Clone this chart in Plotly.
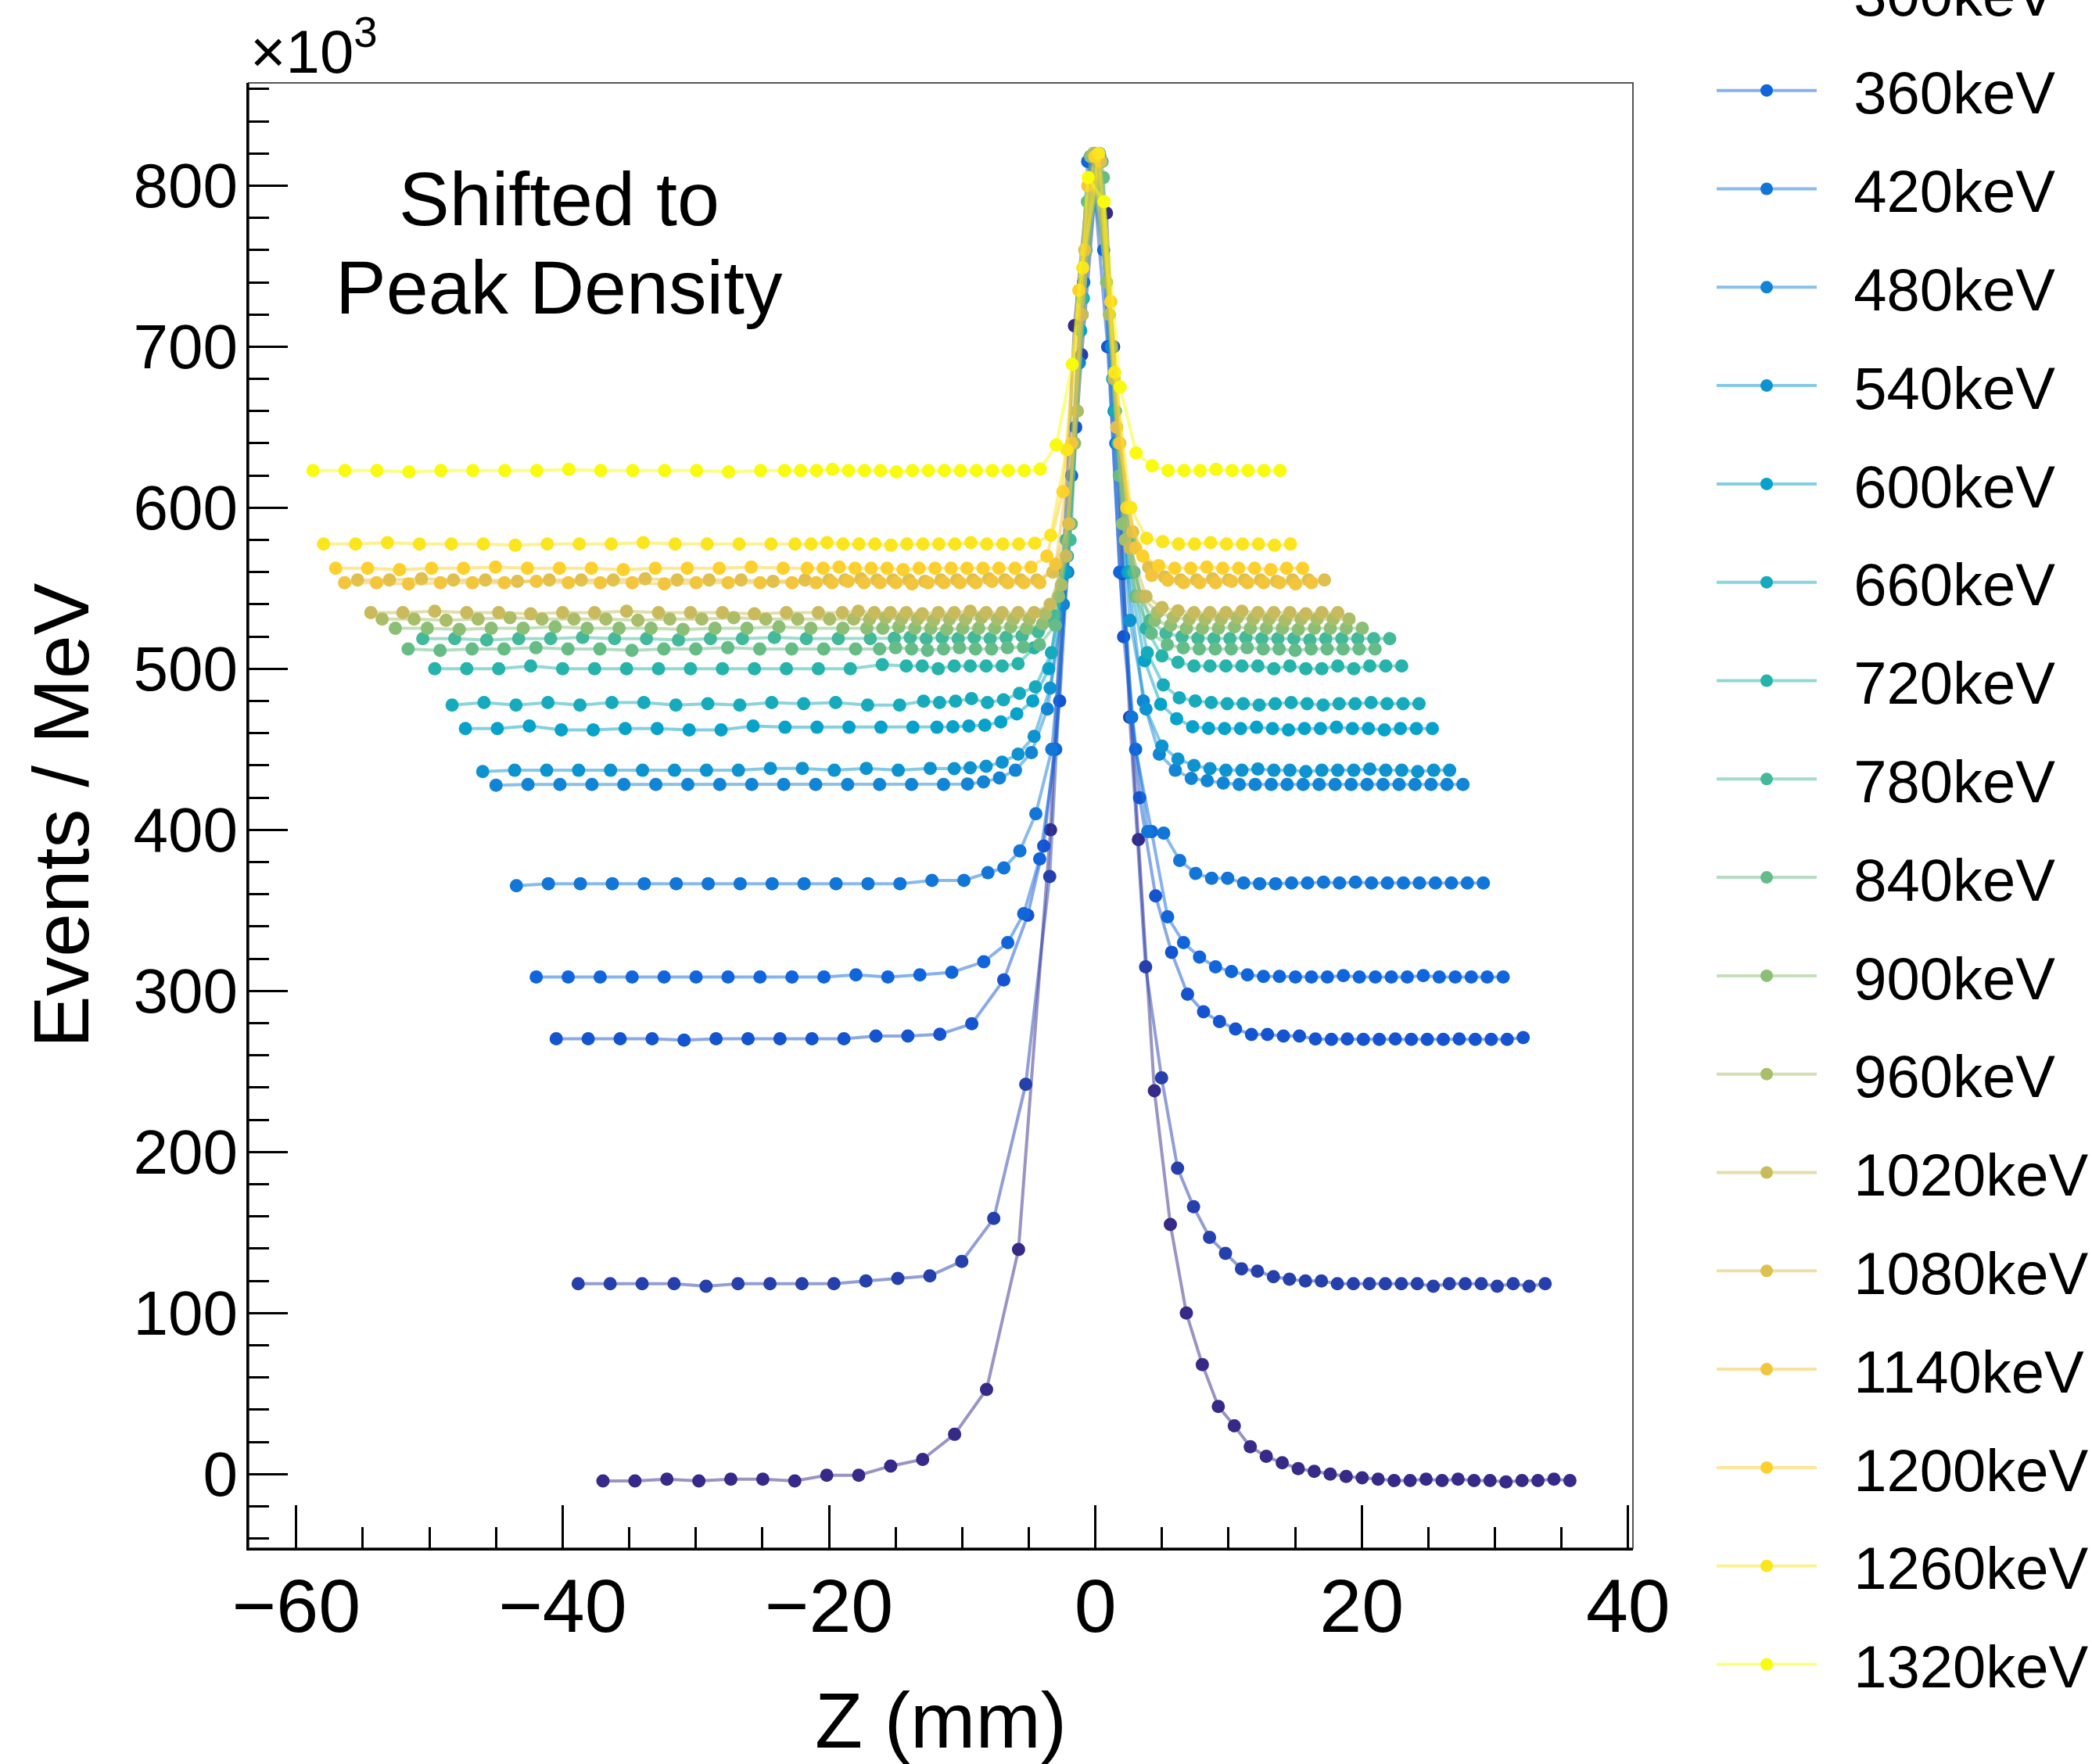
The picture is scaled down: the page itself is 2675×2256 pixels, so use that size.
import plotly.graph_objects as go

# Beam energies (keV) of the scanned samples, lowest first
energies_kev = [180, 240, 300, 360, 420, 480, 540, 600, 660, 720,
                780, 840, 900, 960, 1020, 1080, 1140, 1200, 1260, 1320]

# Z bin centres (mm) of the histogram, measured from the first bin:
# 15 coarse bins of 2.4 mm followed by 32 fine bins of 1.2 mm
bin_centres = [0.0, 2.4, 4.8, 7.2, 9.6, 12.0, 14.4, 16.8, 19.2, 21.6, 24.0, 26.4, 28.8, 31.2, 33.6,
               35.4, 36.6, 37.8, 39.0, 40.2, 41.4, 42.6, 43.8, 45.0, 46.2, 47.4, 48.6, 49.8, 51.0, 52.2,
               53.4, 54.6, 55.8, 57.0, 58.2, 59.4, 60.6, 61.8, 63.0, 64.2, 65.4, 66.6, 67.8, 69.0, 70.2,
               71.4, 72.6]

# Position of the density peak for each energy (same frame as bin_centres)
peak_position = [36.97, 38.83, 40.48, 41.98, 43.47, 45.00, 46.00, 47.30, 48.30, 49.60,
                 50.50, 51.60, 52.56, 53.55, 54.40, 55.40, 56.37, 57.04, 57.95, 58.74]

# Events / MeV (x10^3) per bin
ev_180 = [-4.3, -4.3, -3.2, -4.3, -3.2, -3.2, -4.3, -0.7, -0.7, 5.0, 9.1, 24.7, 52.6, 139.5, 400.0,
          713, 818, 783, 559, 394, 238, 155, 100, 68, 42, 30, 17, 11, 7, 3.4, 1.7,
          0.0, -1.5, -2.3, -3.2, -4.0, -4.0, -3.2, -4.0, -3.2, -4.0, -4.0, -4.8, -4.0, -4.0, -3.2, -4.0]
ev_240 = [118.2, 118.2, 118.2, 118.2, 116.6, 118.2, 118.2, 118.2, 118.2, 119.9, 121.5, 123.1, 132.1, 158.7, 242.0,
          371, 560, 695, 815, 700, 470, 315, 246, 190, 166, 147, 137, 127.5, 126, 122.6, 121,
          119.9, 119.9, 118.2, 118.2, 118.2, 118.2, 118.2, 118.2, 116.6, 118.2, 118.2, 118.2, 116.6, 118.2, 116.6, 118.2]
ev_300 = [270.3, 270.3, 270.3, 270.3, 269.5, 270.3, 270.3, 270.3, 270.3, 270.3, 272.0, 272.0, 273.1, 279.6, 306.8,
          347, 390, 480, 650, 818, 700, 520, 420, 359, 324, 298, 287, 281, 276.4, 273, 273,
          272, 272, 270.2, 269.9, 270.2, 269.9, 269.9, 270.2, 269.9, 269.9, 269.9, 270.2, 269.9, 269.9, 269.9, 271.0]
ev_360 = [308.7, 308.7, 308.7, 308.7, 308.7, 308.7, 308.7, 308.7, 308.7, 308.7, 310.0, 308.7, 310.0, 311.6, 318.1,
          330, 348, 382, 450, 620, 815, 760, 560, 450, 399, 346, 330, 321, 315, 312, 310,
          309, 309, 308.7, 308.7, 308.7, 309.5, 308.7, 308.7, 308.7, 308.7, 309.5, 308.7, 308.7, 308.7, 308.7, 308.7]
ev_420 = [365.3, 366.6, 366.6, 366.6, 366.6, 366.6, 366.6, 366.6, 366.6, 366.6, 366.6, 366.6, 366.6, 368.6, 368.6,
          373.4, 376.4, 386.9, 410, 450, 560, 740, 818, 640, 470, 399, 398, 381, 373, 370, 370,
          367, 366.6, 366.6, 367, 367, 367.5, 367, 367.5, 367, 367, 367, 367, 367, 367, 367, 367]
ev_480 = [427.7, 428.2, 428.2, 428.2, 428.2, 428.2, 428.2, 428.2, 428.2, 428.2, 428.2, 428.2, 428.2, 428.2, 428.2,
          428.5, 429.8, 432.2, 437, 448, 475, 540, 690, 820, 700, 560, 480, 447, 437, 432, 430.5,
          429, 428.2, 428.2, 428.2, 428.2, 428.2, 428.2, 428.2, 428.2, 428.2, 428.2, 428.2, 428.2, 428.2, 428.2, 428.2]
ev_540 = [436.2, 437.0, 437.0, 437.0, 437.0, 437.0, 437.0, 437.0, 437.0, 438.2, 438.2, 437.0, 438.2, 437.0, 438.2,
          438, 438.5, 439.5, 442, 447, 458, 488, 560, 720, 818, 660, 530, 475, 452, 444, 440,
          438, 437.0, 437.0, 437.8, 437.0, 437.0, 436.2, 437.0, 437.0, 437.0, 437.8, 437.0, 437.0, 436.2, 437.0, 437.0]
ev_600 = [462.9, 462.9, 464.5, 462.1, 462.1, 462.9, 462.9, 462.1, 462.1, 464.5, 463.7, 463.7, 463.7, 463.7, 463.7,
          463.7, 464, 464.5, 465, 467, 472, 480, 500, 560, 710, 818, 680, 560, 505, 478, 469,
          464, 463, 462.9, 462.9, 463.7, 462.9, 462.1, 462.9, 462.9, 463.7, 462.9, 462.9, 462.1, 462.9, 462.9, 462.9]
ev_660 = [477.5, 479.1, 477.5, 479.1, 477.5, 479.1, 479.1, 477.5, 478.3, 477.5, 479.1, 478.3, 479.1, 477.5, 477.5,
          479.9, 479.1, 479.9, 481.5, 479.1, 480.7, 484.8, 488.8, 510, 570, 730, 820, 660, 560, 510, 490,
          482, 480, 479, 478.3, 478.3, 477.5, 478.3, 479.1, 478.3, 477.5, 478.3, 478.3, 479.1, 478.3, 478.3, 478.3]
ev_720 = [500.1, 500.1, 500.1, 501.8, 500.1, 500.1, 500.1, 500.1, 500.1, 500.1, 500.1, 500.1, 500.1, 500.1, 502.6,
          501.8, 501.8, 500.1, 501.8, 501.8, 501.8, 501.8, 503.2, 513, 530, 580, 730, 818, 680, 580, 525,
          508, 504, 501.8, 501.8, 501.8, 501.8, 501.8, 500.1, 501.8, 500.1, 500.1, 501.8, 500.1, 501.8, 501.8, 501.8]
ev_780 = [518.7, 518.7, 517.9, 518.7, 518.7, 519.5, 518.7, 518.7, 517.9, 518.7, 518.7, 519.5, 518.7, 518.7, 518.7,
          519.0, 519.5, 518.7, 519.5, 518.7, 519.5, 518.7, 519.5, 520.5, 523, 533, 580, 760, 815, 640, 560,
          530, 522, 520, 519, 518.7, 518.7, 519.5, 518.7, 518.7, 518.7, 517.9, 518.7, 518.7, 518.7, 518.7, 518.7]
ev_840 = [512.3, 511.5, 512.3, 512.3, 513.1, 512.3, 512.3, 511.5, 512.3, 512.3, 513.1, 512.3, 512.3, 512.3, 512.3,
          512.3, 513.1, 512.3, 511.5, 512.3, 513.1, 512.3, 512.3, 513.1, 513.5, 515, 527, 590, 790, 805, 620,
          545, 522, 515, 513, 512.3, 512.3, 512.3, 513.1, 512.3, 512.3, 511.5, 512.3, 512.3, 512.3, 512.3, 512.3]
ev_900 = [525.2, 525.2, 524.4, 525.2, 525.2, 526.0, 525.2, 525.2, 525.2, 524.4, 525.2, 525.2, 526.0, 525.2, 525.2,
          525.2, 525.2, 526.0, 525.2, 525.2, 524.4, 525.2, 525.2, 525.2, 526.0, 525.2, 528, 545, 640, 818, 740,
          590, 545, 530, 527, 525.2, 525.2, 525.2, 526.0, 525.2, 525.2, 525.2, 524.4, 525.2, 525.2, 525.2, 525.2]
ev_960 = [530.9, 530.9, 530.1, 530.9, 531.7, 530.9, 530.9, 530.9, 530.1, 530.9, 530.9, 531.7, 530.9, 530.9, 530.9,
          530.9, 530.9, 531.7, 530.9, 530.9, 530.1, 530.9, 530.9, 531.7, 530.9, 530.9, 530.9, 534, 552, 660, 820,
          720, 580, 545, 535, 532, 530.9, 530.9, 530.9, 531.7, 530.9, 530.9, 530.1, 530.9, 530.9, 530.9, 530.9]
ev_1020 = [534.9, 534.9, 535.7, 534.9, 534.9, 534.1, 534.9, 534.9, 535.7, 534.9, 534.9, 534.9, 534.1, 534.9, 534.9,
           534.9, 535.7, 534.9, 534.9, 534.9, 534.1, 534.9, 534.9, 535.7, 534.9, 534.9, 534.9, 534.9, 540, 570, 720,
           818, 680, 575, 545, 538, 536, 534.9, 534.9, 534.9, 535.7, 534.9, 534.9, 534.9, 534.1, 534.9, 534.9]
ev_1080 = [555.1, 555.1, 555.9, 555.1, 555.1, 554.3, 555.1, 555.1, 555.1, 555.9, 555.1, 555.1, 555.1, 554.3, 555.1,
           555.1, 555.1, 555.9, 555.1, 555.1, 555.1, 554.3, 555.1, 555.1, 555.1, 555.9, 555.1, 555.1, 555.1, 560, 590,
           760, 815, 650, 585, 563, 557, 555.1, 555.1, 555.9, 555.1, 555.1, 555.1, 554.3, 555.1, 555.1, 555.1]
ev_1140 = [553.5, 553.5, 552.7, 553.5, 553.5, 553.5, 554.3, 553.5, 553.5, 553.5, 552.7, 553.5, 553.5, 553.5, 553.5,
           553.5, 553.5, 554.3, 553.5, 553.5, 553.5, 552.7, 553.5, 553.5, 553.5, 553.5, 554.3, 553.5, 553.5, 553.5, 565,
           640, 800, 790, 640, 575, 558, 555, 553.5, 553.5, 553.5, 554.3, 553.5, 553.5, 553.5, 552.7, 553.5]
ev_1200 = [562.4, 562.4, 561.6, 562.4, 562.4, 563.2, 562.4, 562.4, 562.4, 561.6, 562.4, 562.4, 562.4, 563.2, 562.4,
           562.4, 562.4, 563.2, 562.4, 562.4, 562.4, 561.6, 562.4, 562.4, 562.4, 562.4, 562.4, 562.4, 562.4, 563, 570,
           610, 735, 818, 728, 600, 570, 564, 562.4, 562.4, 563.2, 562.4, 562.4, 562.4, 561.6, 562.4, 562.4]
ev_1260 = [577.5, 577.5, 578.3, 577.5, 577.5, 577.5, 576.7, 577.5, 577.5, 577.5, 578.3, 577.5, 577.5, 577.5, 577.5,
           577.5, 577.5, 578.3, 577.5, 577.5, 577.5, 576.7, 577.5, 577.5, 577.5, 577.5, 578.3, 577.5, 577.5, 577.5, 578,
           583, 636, 749, 820, 684, 600, 581, 579, 577.5, 577.5, 578.3, 577.5, 577.5, 577.5, 576.7, 577.5]
ev_1320 = [623.1, 623.1, 623.1, 622.3, 623.1, 623.1, 623.1, 623.1, 623.9, 623.1, 623.1, 623.1, 623.1, 622.3, 623.1,
           623.1, 623.1, 623.1, 623.9, 623.1, 623.1, 623.1, 622.3, 623.1, 623.1, 623.1, 623.1, 623.1, 623.1, 623.1, 623.1,
           624, 639, 689, 805, 790, 675, 634, 626, 623.1, 623.1, 623.1, 623.9, 623.1, 623.1, 623.1, 623.1]

events = [ev_180, ev_240, ev_300, ev_360, ev_420, ev_480, ev_540, ev_600, ev_660, ev_720,
          ev_780, ev_840, ev_900, ev_960, ev_1020, ev_1080, ev_1140, ev_1200, ev_1260, ev_1320]

# Energies listed in the key (the key starts at 300 keV)
legend_from_kev = 300

# ROOT kBird palette
BIRD_STOPS = [0.0, 0.125, 0.25, 0.375, 0.5, 0.625, 0.75, 0.875, 1.0]
BIRD_R = [0.2082, 0.0592, 0.0780, 0.0232, 0.1802, 0.5301, 0.8186, 0.9956, 0.9764]
BIRD_G = [0.1664, 0.3599, 0.5041, 0.6419, 0.7178, 0.7492, 0.7328, 0.7862, 0.9832]
BIRD_B = [0.5293, 0.8684, 0.8385, 0.7914, 0.6425, 0.4662, 0.3499, 0.1968, 0.0539]


def bird(t):
    for k in range(len(BIRD_STOPS) - 1):
        if t <= BIRD_STOPS[k + 1] + 1e-9:
            f = (t - BIRD_STOPS[k]) / (BIRD_STOPS[k + 1] - BIRD_STOPS[k])
            return tuple(int(round(255 * (c[k] + f * (c[k + 1] - c[k])))) for c in (BIRD_R, BIRD_G, BIRD_B))
    return tuple(int(round(255 * c[-1])) for c in (BIRD_R, BIRD_G, BIRD_B))


FONT = "Liberation Sans"
W, H = 2675, 2256
L, R, T, B = 318, 587, 106, 276
plot_w, plot_h = W - L - R, H - T - B
KEY_PAD = "\u00a0\u00a0"  # gap between the key sample and its label

fig = go.Figure()
n = len(energies_kev)
for i, (e, ys, zpk) in enumerate(zip(energies_kev, events, peak_position)):
    r, g, b = bird(i / (n - 1))
    xs = [c - zpk for c in bin_centres]
    fig.add_trace(go.Scatter(
        x=xs, y=ys, mode="lines+markers", name=f"{KEY_PAD}{e}keV", legendgroup=f"{e}keV",
        showlegend=e >= legend_from_kev,
        line=dict(color=f"rgba({r},{g},{b},0.5)", width=4),
        marker=dict(color=f"rgb({r},{g},{b})", size=17, line=dict(width=0)),
    ))


def px_x(p):
    return (p - L) / plot_w


def px_y(p):
    return (H - B - p) / plot_h


fig.update_layout(
    width=W, height=H,
    margin=dict(l=L, r=R, t=T, b=B, autoexpand=False),
    paper_bgcolor="white", plot_bgcolor="white",
    font=dict(family=FONT, color="black"),
    showlegend=True,
    legend=dict(
        x=px_x(2190), y=px_y(-66), xanchor="left", yanchor="top",
        font=dict(family=FONT, size=76, color="black"),
        bgcolor="rgba(0,0,0,0)", borderwidth=0,
        itemwidth=128, tracegroupgap=24, maxheight=4000,
        traceorder="grouped",
    ),
    xaxis=dict(
        range=[-63.57, 40.36], tick0=0, dtick=20,
        ticks="inside", ticklen=55, tickwidth=3, tickcolor="black",
        showline=True, linewidth=3, linecolor="black", mirror=False,
        showgrid=False, zeroline=False, ticklabelstandoff=-12,
        tickfont=dict(family=FONT, size=97, color="black"),
        minor=dict(dtick=5, ticks="inside", ticklen=27, tickwidth=3, tickcolor="black", showgrid=False),
        title=dict(text="Z (mm)", font=dict(family=FONT, size=100, color="black"), standoff=58),
    ),
    yaxis=dict(
        range=[-46.0, 863.8], tick0=0, dtick=100,
        ticks="inside", ticklen=50, tickwidth=3, tickcolor="black",
        showline=True, linewidth=3, linecolor="black", mirror=False,
        showgrid=False, zeroline=False, ticklabelstandoff=-5,
        tickfont=dict(family=FONT, size=80, color="black"),
        minor=dict(dtick=20, ticks="inside", ticklen=26, tickwidth=3, tickcolor="black", showgrid=False),
        title=dict(text="Events / MeV", font=dict(family=FONT, size=100, color="black"), standoff=24),
    ),
    shapes=[dict(type="rect", xref="paper", yref="paper", x0=0, x1=1, y0=0, y1=1,
                 line=dict(color="#555555", width=2), layer="below")],
    annotations=[
        dict(text="×10<sup>3</sup>", xref="paper", yref="paper", x=px_x(318), y=px_y(112),
             xanchor="left", yanchor="bottom", showarrow=False,
             font=dict(family=FONT, size=78, color="black")),
        dict(text="Shifted to", xref="paper", yref="paper", x=px_x(715), y=px_y(254),
             xanchor="center", yanchor="middle", showarrow=False,
             font=dict(family=FONT, size=97, color="black")),
        dict(text="Peak Density", xref="paper", yref="paper", x=px_x(715), y=px_y(368),
             xanchor="center", yanchor="middle", showarrow=False,
             font=dict(family=FONT, size=97, color="black")),
    ],
)

fig.write_html("out.html")
